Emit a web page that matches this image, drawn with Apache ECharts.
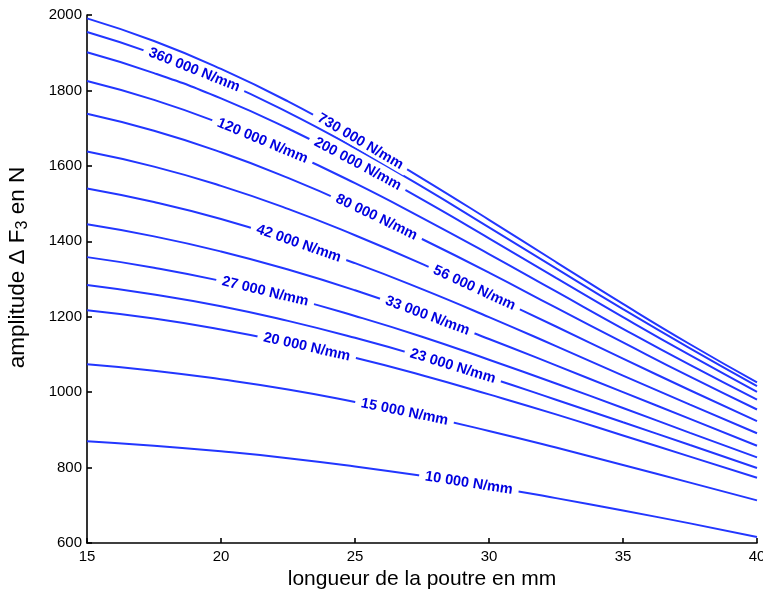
<!DOCTYPE html>
<html><head><meta charset="utf-8">
<script src="https://cdn.jsdelivr.net/npm/echarts@6/dist/echarts.min.js"></script>
<style>html,body{margin:0;padding:0;background:#fff}#c{width:763px;height:589px}</style>
</head><body><div id="c"></div>
<script>
// x values: beam length (mm)
const lengths = [15, 17.5, 20, 22.5, 25, 27.5, 30, 32.5, 35, 37.5, 40];
// amplitude ΔF3 (N) for each spring stiffness
const k730000 = [1991, 1931, 1857, 1771, 1673, 1567, 1457, 1345, 1234, 1127, 1026];
const k360000 = [1955, 1897, 1826, 1742, 1647, 1545, 1437, 1328, 1220, 1116, 1016];
const k200000 = [1901, 1846, 1779, 1699, 1609, 1511, 1408, 1303, 1199, 1098, 1001];
const k120000 = [1825, 1775, 1712, 1638, 1554, 1462, 1366, 1267, 1168, 1072, 980];
const k80000  = [1738, 1693, 1636, 1568, 1491, 1406, 1317, 1224, 1132, 1041, 954];
const k56000  = [1638, 1598, 1547, 1486, 1416, 1340, 1258, 1174, 1089, 1005, 923];
const k42000  = [1540, 1504, 1459, 1404, 1342, 1273, 1199, 1122, 1044, 967, 891];
const k33000  = [1445, 1413, 1373, 1325, 1270, 1208, 1141, 1071, 1000, 929, 858];
const k27000  = [1358, 1330, 1295, 1252, 1202, 1147, 1086, 1023, 958, 892, 827];
const k23000  = [1284, 1259, 1228, 1189, 1144, 1094, 1039, 980, 920, 860, 799];
const k20000  = [1217, 1195, 1166, 1131, 1091, 1045, 994, 941, 885, 829, 773];
const k15000  = [1074, 1057, 1034, 1007, 974, 938, 897, 853, 807, 760, 713];
const k10000  = [870, 858, 843, 825, 803, 778, 750, 719, 686, 652, 616];
const curveNames = ['730 000 N/mm', '360 000 N/mm', '200 000 N/mm', '120 000 N/mm', '80 000 N/mm',
  '56 000 N/mm', '42 000 N/mm', '33 000 N/mm', '27 000 N/mm', '23 000 N/mm', '20 000 N/mm',
  '15 000 N/mm', '10 000 N/mm'];
const curveValues = [k730000, k360000, k200000, k120000, k80000, k56000, k42000, k33000,
  k27000, k23000, k20000, k15000, k10000];
// x position (mm) of each inline curve label
const labelX = [25.2, 19.0, 25.1, 21.55, 25.8, 29.45, 22.9, 27.7, 21.65, 28.65, 23.2, 26.85, 29.25];

const LINE = '#2236ff', TXT = '#0000e0', FONT = '"Liberation Sans", Arial, sans-serif';

function interp(arr, x) {
  for (let i = 0; i < lengths.length - 1; i++) {
    if (x >= lengths[i] && x <= lengths[i + 1]) {
      const t = (x - lengths[i]) / (lengths[i + 1] - lengths[i]);
      return arr[i] + t * (arr[i + 1] - arr[i]);
    }
  }
  return arr[arr.length - 1];
}

const chart = echarts.init(document.getElementById('c'), null, {renderer: 'canvas'});
const axisCommon = {
  axisLine: {show: true, onZero: false, lineStyle: {color: '#000', width: 1.6}},
  axisTick: {show: true, inside: true, length: 5, lineStyle: {color: '#000', width: 1.6}},
  splitLine: {show: false},
  axisLabel: {color: '#000', fontSize: 15, fontFamily: FONT, formatter: v => String(v)},
  nameTextStyle: {color: '#000', fontSize: 21, fontFamily: FONT}
};
const option = {
  animation: false,
  backgroundColor: '#fff',
  grid: {left: 87, right: 6, top: 15, bottom: 46, containLabel: false, outerBoundsMode: 'none'},
  xAxis: Object.assign({}, axisCommon, {
    type: 'value', min: 15, max: 40, interval: 5,
    name: 'longueur de la poutre en mm', nameLocation: 'middle', nameGap: 25,
    axisLabel: Object.assign({}, axisCommon.axisLabel, {margin: 6})
  }),
  yAxis: Object.assign({}, axisCommon, {
    type: 'value', min: 600, max: 2000, interval: 200,
    name: 'amplitude Δ F{sub|3} en N', nameLocation: 'middle', nameGap: 56,
    nameTextStyle: {color: '#000', fontSize: 22.5, fontFamily: FONT, padding: [0, 0, 0, 23],
      rich: {sub: {fontSize: 16, fontFamily: FONT, color: '#000', verticalAlign: 'bottom', padding: [10, 0, 0, 0]}}},
    axisLabel: Object.assign({}, axisCommon.axisLabel, {margin: 5})
  }),
  series: curveValues.map((vals, i) => ({
    type: 'line', name: curveNames[i], smooth: true, showSymbol: false, symbol: 'none',
    data: lengths.map((x, j) => [x, vals[j]]),
    lineStyle: {color: LINE, width: 2}
  }))
};
chart.setOption(option);

// add inline labels rotated along each curve
const updates = curveValues.map((vals, i) => {
  const x = labelX[i];
  const y = interp(vals, x);
  const p1 = chart.convertToPixel({gridIndex: 0}, [x - 0.4, interp(vals, x - 0.4)]);
  const p2 = chart.convertToPixel({gridIndex: 0}, [x + 0.4, interp(vals, x + 0.4)]);
  const ang = -Math.atan2(p2[1] - p1[1], p2[0] - p1[0]) * 180 / Math.PI;
  return {
    markPoint: {
      symbol: 'circle', symbolSize: 0, silent: true,
      data: [{coord: [x, y], value: curveNames[i]}],
      label: {
        show: true, position: 'inside', formatter: curveNames[i], rotate: ang,
        color: TXT, fontWeight: 'bold', fontSize: 14.5, fontFamily: FONT,
        backgroundColor: '#fff', padding: [0, 6], align: 'center', verticalAlign: 'middle'
      }
    }
  };
});
chart.setOption({series: updates});
</script>
</body></html>
